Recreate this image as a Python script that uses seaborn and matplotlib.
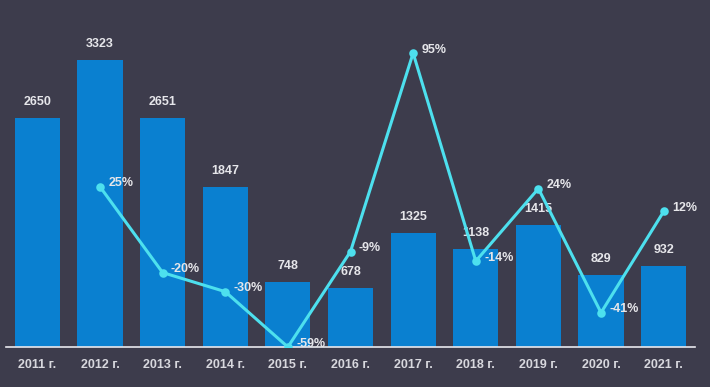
import numpy as np
import pandas as pd
import seaborn as sns
import matplotlib.pyplot as plt

# values
years = ["2011 г.", "2012 г.", "2013 г.", "2014 г.", "2015 г.", "2016 г.",
         "2017 г.", "2018 г.", "2019 г.", "2020 г.", "2021 г."]
counts = [2650, 3323, 2651, 1847, 748, 678, 1325, 1138, 1415, 829, 932]
# year-over-year change, no value for the first year
change_years = years[1:]
change_pct = [25, -20, -30, -59, -9, 95, -14, 24, -41, 12]

BG = "#3d3c4c"
BAR = "#0a80d0"
LINE = "#4de0ee"
TXT = "#e6e6ea"

sns.set_theme(style="white")
plt.rcParams["font.family"] = ["Liberation Sans", "DejaVu Sans"]

fig = plt.figure(figsize=(7.1, 3.87), dpi=100, facecolor=BG)
ax = fig.add_axes([6 / 710, 40 / 387, 689 / 710, 347 / 387])
ax.set_facecolor(BG)

df = pd.DataFrame({"year": years, "count": counts})
sns.barplot(data=df, x="year", y="count", order=years, color=BAR,
            saturation=1, width=0.72, linewidth=0, edgecolor=BAR, ax=ax)
ax.set_xlim(-0.5, len(years) - 0.5)
ax.set_ylim(0, 4016)

for i, v in enumerate(counts):
    ax.annotate(str(v), (i, v), xytext=(0, 11.5), textcoords="offset points",
                ha="center", va="center", color=TXT, fontsize=9,
                fontweight="bold")

ax2 = ax.twinx()
dl = pd.DataFrame({"year": change_years, "pct": change_pct})
sns.pointplot(data=dl, x="year", y="pct", order=years, color=LINE,
              markers="o", linewidth=2.2, markersize=4.5, ax=ax2)
ax2.set_ylim(-59, 122.8)
ax2.set_xlim(ax.get_xlim())

for y, v in zip(change_years, change_pct):
    i = years.index(y)
    ax2.annotate(f"{v}%", (i, v), xytext=(6, 2.5), textcoords="offset points",
                 ha="left", va="center", color=TXT, fontsize=9,
                 fontweight="bold")

for a in (ax, ax2):
    a.set_xlabel("")
    a.set_ylabel("")
    a.set_yticks([])
    for s in ("top", "left", "right"):
        a.spines[s].set_visible(False)
    a.grid(False)
ax2.spines["bottom"].set_visible(False)
ax.spines["bottom"].set_color("#e8e8ee")
ax.spines["bottom"].set_linewidth(1.2)
ax.tick_params(axis="x", length=0, pad=9, colors=TXT)
for t in ax.get_xticklabels():
    t.set_fontsize(9)
    t.set_fontweight("bold")
    t.set_color("#d8d8de")
ax2.tick_params(axis="x", length=0, labelbottom=False)

fig.savefig("out.png", dpi=100, facecolor=BG)
